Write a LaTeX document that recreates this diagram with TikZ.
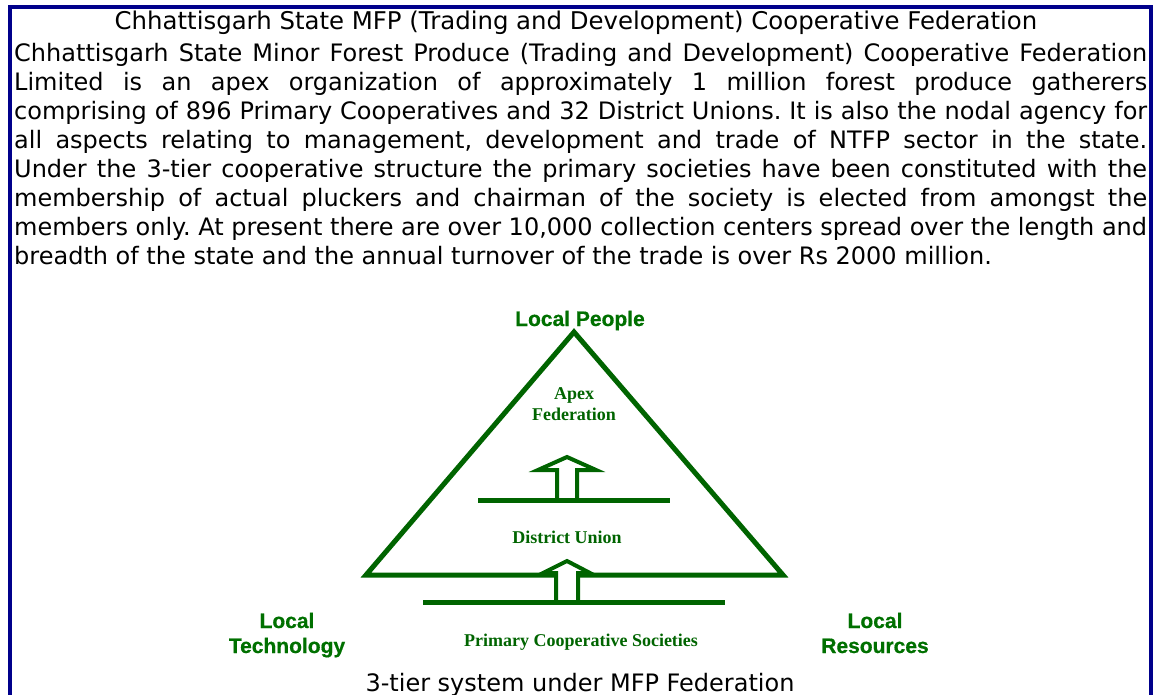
\documentclass[tikz,border=0pt]{standalone}
\usepackage{fontspec}
\setmainfont{DejaVu Sans}
\newfontfamily\headfont{Liberation Sans}[FakeBold=0.6]
\newfontfamily\tierfont{Liberation Serif}
\definecolor{frameblue}{RGB}{0,0,139}
\definecolor{treegreen}{RGB}{0,100,0}
\definecolor{labelgreen}{RGB}{0,112,0}
\frenchspacing
\begin{document}
\begin{tikzpicture}[x=1pt,y=-1pt,
  bodyline/.style={anchor=base west, inner sep=0pt, font=\fontsize{24}{29}\selectfont},
  headline/.style={anchor=base, inner sep=0pt, font=\fontsize{24.4}{29}\selectfont},
  corner/.style={anchor=base, inner sep=0pt, text=labelgreen, font=\headfont\bfseries\fontsize{21}{25}\selectfont},
  tier/.style={anchor=base, inner sep=0pt, text=treegreen, font=\tierfont\bfseries\fontsize{18}{21}\selectfont},
  edge/.style={draw=treegreen, line width=5pt},
  blockarrow/.style={draw=treegreen, fill=white, line width=4pt}]
\useasboundingbox (0,0) rectangle (1154,695);

% frame (open at the bottom)
\draw[frameblue, line width=4pt] (10,695) -- (10,7) -- (1151,7) -- (1151,695);

% heading and description
\node[headline] (title) at (576,30) {Chhattisgarh State MFP (Trading and Development) Cooperative Federation};
\node[bodyline] (l1) at (14,62)  {\makebox[1133pt][s]{Chhattisgarh State Minor Forest Produce (Trading and Development) Cooperative Federation}};
\node[bodyline] (l2) at (14,91)  {\makebox[1133pt][s]{Limited is an apex organization of approximately 1 million forest produce gatherers}};
\node[bodyline] (l3) at (14,120) {\makebox[1133pt][s]{comprising of 896 Primary Cooperatives and 32 District Unions. It is also the nodal agency for}};
\node[bodyline] (l4) at (14,149) {\makebox[1133pt][s]{all aspects relating to management, development and trade of NTFP sector in the state.}};
\node[bodyline] (l5) at (14,178) {\makebox[1133pt][s]{Under the 3-tier cooperative structure the primary societies have been constituted with the}};
\node[bodyline] (l6) at (14,207) {\makebox[1133pt][s]{membership of actual pluckers and chairman of the society is elected from amongst the}};
\node[bodyline] (l7) at (14,236) {\makebox[1133pt][s]{members only. At present there are over 10,000 collection centers spread over the length and}};
\node[bodyline] (l8) at (14,265) {breadth of the state and the annual turnover of the trade is over Rs 2000 million.};

% pyramid
\coordinate (apex) at (574,332);
\coordinate (bl) at (366,575);
\coordinate (br) at (783,575);
\coordinate (midL) at (478,500);
\coordinate (midR) at (670,500);
\coordinate (lowL) at (423,602);
\coordinate (lowR) at (725,602);

% upper block arrow, then the tier line it stands on
\draw[blockarrow] (557,500) -- (557,470) -- (538,470) -- (567,457) -- (596,470) -- (577,470) -- (577,500);
\draw[edge] (midL) -- (midR);

% triangle, lower block arrow over its base, then the bottom line
\draw[edge] (bl) -- (apex) -- (br) -- cycle;
\draw[blockarrow] (556,602) -- (556,573) -- (543,573) -- (567,561) -- (590,573) -- (578,573) -- (578,602);
\draw[edge] (lowL) -- (lowR);

% labels
\node[corner] (people) at (580,326) {Local People};
\node[tier] (apexlbl) at (574,399) {Apex};
\node[tier] (fedlbl) at (574,420) {Federation};
\node[tier] (district) at (567,543) {District Union};
\node[tier] (primary) at (581,646) {Primary Cooperative Societies};
\node[corner] (tech1) at (287,628) {Local};
\node[corner] (tech2) at (287,653) {Technology};
\node[corner] (res1) at (875,628) {Local};
\node[corner] (res2) at (875,653) {Resources};

% caption
\node[anchor=base, inner sep=0pt, font=\fontsize{24}{29}\selectfont] (caption) at (580,691) {3-tier system under MFP Federation};
\end{tikzpicture}
\end{document}
